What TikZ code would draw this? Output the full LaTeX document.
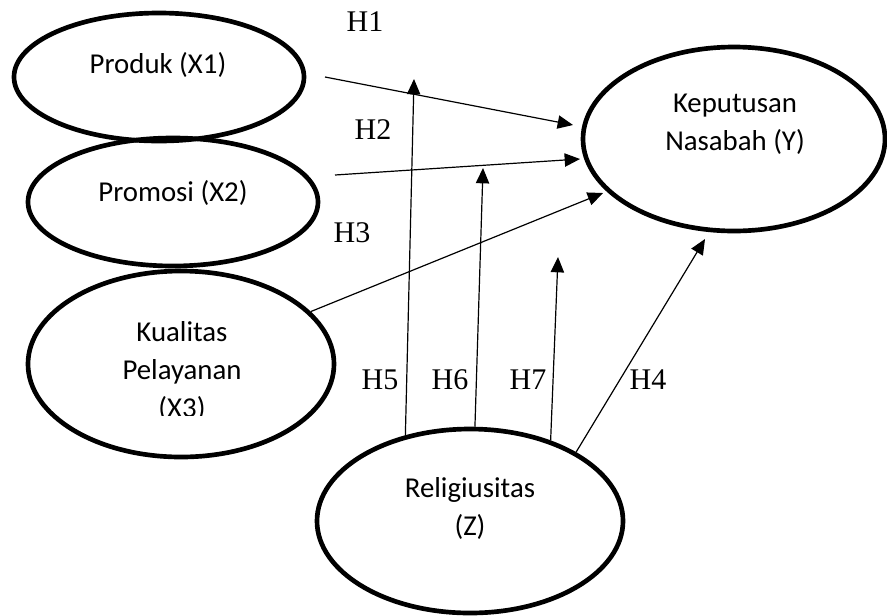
\documentclass[tikz,border=0pt]{standalone}
\usepackage{fontspec}
\setmainfont{Liberation Serif}
\newfontfamily\calfont{Carlito}
\usetikzlibrary{shapes.geometric,arrows.meta}
\begin{document}
\begin{tikzpicture}[x=0.75pt,y=-0.75pt,
  var/.style={draw,ellipse,line width=3.5pt,inner sep=0pt},
  vtext/.style={font=\calfont\fontsize{21.6}{28.5}\selectfont,align=center,inner sep=0pt},
  hlab/.style={font=\fontsize{22.5}{24}\selectfont,inner sep=0pt},
  arr/.style={line width=0.9pt,-{Triangle[length=11.5pt,width=10pt]}}]
\useasboundingbox (0,0) rectangle (887,615);
% ellipses (sizes in pt = px * 0.75)
\node[var,minimum width=217.5pt,minimum height=96pt] (X1) at (159,77) {};
\node[var,minimum width=217.5pt,minimum height=96pt] (X2) at (173,202) {};
\node[var,minimum width=229.5pt,minimum height=139.5pt] (X3) at (181,364) {};
\node[var,minimum width=226.5pt,minimum height=138pt] (Y) at (734,139) {};
\node[var,minimum width=229.5pt,minimum height=138pt] (Z) at (470,521) {};
% texts
\node[vtext] (tX1) at (158,65) {Produk (X1)};
\node[vtext] (tX2) at (173,193) {Promosi (X2)};
\begin{scope}
\clip (60,300) rectangle (300,415);
\node[vtext] (tX3) at (182,371) {Kualitas\\Pelayanan\\(X3)};
\end{scope}
\node[vtext] (tY) at (735,124) {Keputusan\\Nasabah (Y)};
\node[vtext] (tZ) at (470,508) {Religiusitas\\(Z)};
% free ends
\coordinate (s1) at (325,77);
\coordinate (e1) at (573,125);
\coordinate (s2) at (335,175);
\coordinate (e2) at (580,159);
\coordinate (e3) at (603,193);
\coordinate (e5) at (414,79);
\coordinate (e6) at (483,168);
\coordinate (e7) at (558,257);
\coordinate (e4) at (705,239);
% arrows
\draw[arr] (s1) -- (e1);
\draw[arr] (s2) -- (e2);
\draw[arr] (X3.22.7) -- (e3);
\draw[arr] (Z.127.7) -- (e5);
\draw[arr] (Z.87.5) -- (e6);
\draw[arr] (Z.45) -- (e7);
\draw[arr] (Z.33) -- (e4);
% labels
\node[hlab] (H1) at (365,22) {H1};
\node[hlab] (H2) at (373,130) {H2};
\node[hlab] (H3) at (352,233) {H3};
\node[hlab] (H5) at (380,380) {H5};
\node[hlab] (H6) at (450,380) {H6};
\node[hlab] (H7) at (528,380) {H7};
\node[hlab] (H4) at (648,380) {H4};
\end{tikzpicture}
\end{document}
